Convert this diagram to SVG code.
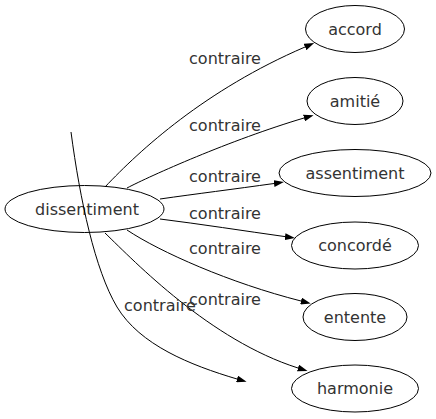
<svg xmlns="http://www.w3.org/2000/svg" width="436" height="419" viewBox="0 0 436 419">
<style>
  .node ellipse { fill: none; stroke: #000; stroke-width: 1; }
  .node text { font-family: "DejaVu Sans", sans-serif; font-size: 16px; fill: #333; text-anchor: middle; }
  .edge path { fill: none; stroke: #000; stroke-width: 1; }
  .lbl { font-family: "DejaVu Sans", sans-serif; font-size: 16px; fill: #333; text-anchor: middle; }
</style>
<defs>
  <marker id="arrow" viewBox="0 0 10 7" refX="0" refY="3.5" markerWidth="10" markerHeight="7" markerUnits="userSpaceOnUse" orient="auto">
    <path d="M0,0 L10,3.5 L0,7 z" fill="#000"/>
  </marker>
</defs>
<rect width="436" height="419" fill="#fff"/>
<g id="nodes">
  <g id="node-dissentiment" class="node"><ellipse cx="84.5" cy="209" rx="79.5" ry="23.5"/><text x="87" y="214.5">dissentiment</text></g>
  <g id="node-accord" class="node"><ellipse cx="355" cy="29" rx="49.5" ry="23.5"/><text x="355" y="34.5">accord</text></g>
  <g id="node-amitie" class="node"><ellipse cx="355" cy="101" rx="48" ry="23.5"/><text x="355" y="106.5">amitié</text></g>
  <g id="node-assentiment" class="node"><ellipse cx="355" cy="173" rx="76" ry="23.5"/><text x="355" y="178.5">assentiment</text></g>
  <g id="node-concorde" class="node"><ellipse cx="355" cy="245.5" rx="63.5" ry="23.5"/><text x="355" y="251">concordé</text></g>
  <g id="node-entente" class="node"><ellipse cx="355" cy="317" rx="52" ry="23.5"/><text x="355" y="322.5">entente</text></g>
  <g id="node-harmonie" class="node"><ellipse cx="355" cy="388.5" rx="63.5" ry="23.5"/><text x="355" y="394">harmonie</text></g>
</g>
<g id="connectors">
  <g class="edge"><path d="M105,187 C140,150 205,90 305,47" marker-end="url(#arrow)"/><text class="lbl" x="225" y="64">contraire</text></g>
  <g class="edge"><path d="M127,188 C150,176 230,140 304,118" marker-end="url(#arrow)"/><text class="lbl" x="225" y="131">contraire</text></g>
  <g class="edge"><path d="M160,199 C195,194 235,189 274,183.5" marker-end="url(#arrow)"/><text class="lbl" x="225" y="182">contraire</text></g>
  <g class="edge"><path d="M160,219 C200,224 245,231 285,236.6" marker-end="url(#arrow)"/><text class="lbl" x="225" y="219">contraire</text></g>
  <g class="edge"><path d="M127,230 C160,252 230,283 301,301" marker-end="url(#arrow)"/><text class="lbl" x="225" y="254">contraire</text></g>
  <g class="edge"><path d="M105,233 C135,262 210,340 298,368" marker-end="url(#arrow)"/><text class="lbl" x="225" y="305">contraire</text></g>
  <g class="edge"><path d="M71,132 C80,200 95,270 117,307 C140,345 190,365 237,379" marker-end="url(#arrow)"/><text class="lbl" x="160" y="311">contraire</text></g>
</g>
</svg>
